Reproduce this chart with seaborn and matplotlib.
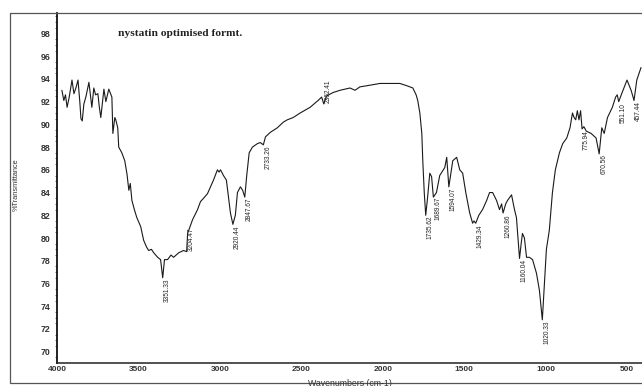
import numpy as np
import pandas as pd
import matplotlib
matplotlib.use("Agg")
import matplotlib.pyplot as plt
from matplotlib.patches import Rectangle
import seaborn as sns

# ---- data ----
wavenumber = [
    3970, 3958, 3948, 3938, 3925, 3908, 3896, 3884, 3871, 3860, 3853, 3845, 3835,
    3823, 3804, 3786, 3774, 3763, 3749, 3740, 3731, 3712, 3700, 3682, 3663, 3657,
    3645, 3639, 3627, 3621, 3602, 3584, 3570, 3559, 3550, 3540, 3525, 3510, 3486,
    3468, 3450, 3437, 3420, 3406, 3382, 3364, 3351, 3340, 3321, 3300, 3284, 3253,
    3223, 3204, 3198, 3168, 3137, 3119, 3100, 3076, 3039, 3015, 3005, 2996, 2978,
    2960, 2947, 2935, 2920, 2905, 2892, 2874, 2860, 2847, 2835, 2820, 2800, 2770,
    2752, 2733, 2720, 2690, 2647, 2610, 2586, 2550, 2507, 2470, 2446, 2397, 2375,
    2362, 2345, 2305, 2262, 2201, 2170, 2140, 2097, 2017, 1950, 1895, 1852, 1815,
    1795, 1785, 1772, 1760, 1754, 1745, 1736, 1725, 1711, 1700, 1689, 1670, 1650,
    1619, 1607, 1594, 1570, 1546, 1527, 1509, 1490, 1466, 1448, 1440, 1429, 1410,
    1387, 1362, 1344, 1325, 1301, 1283, 1270, 1261, 1245, 1234, 1209, 1191, 1179,
    1160, 1150, 1142, 1130, 1117, 1099, 1080, 1056, 1038, 1020, 1005, 995, 977,
    958, 940, 915, 895, 870, 850, 835, 825, 815, 805, 795, 785, 776, 765, 750,
    720, 690, 671, 655, 640, 620, 590, 570, 560, 551, 530, 500, 475, 457, 440, 414,
]
transmittance = [
    93.0, 92.1, 92.6, 91.5, 92.4, 93.9, 92.7, 93.2, 93.9, 92.0, 90.5, 90.3, 91.8,
    92.4, 93.7, 91.5, 93.2, 92.6, 92.7, 91.5, 90.6, 93.1, 92.0, 93.1, 92.4, 89.2,
    90.6, 90.4, 89.7, 88.0, 87.5, 86.8, 85.6, 84.2, 84.8, 83.3, 82.5, 81.8, 81.0,
    79.8, 79.2, 78.9, 79.0, 78.7, 78.3, 78.1, 76.5, 78.1, 78.1, 78.5, 78.3, 78.7,
    78.9, 78.8, 80.4, 81.6, 82.5, 83.2, 83.5, 83.9, 85.1, 86.0, 85.8, 86.0, 85.5,
    85.1, 83.6, 82.2, 81.2, 82.0, 84.0, 84.5, 84.2, 83.6, 85.5, 87.5, 88.0, 88.3,
    88.4, 88.2, 88.9, 89.3, 89.7, 90.2, 90.4, 90.6, 91.0, 91.3, 91.5, 92.1, 92.4,
    91.8, 92.5, 92.8, 93.0, 93.2, 93.0, 93.3, 93.4, 93.6, 93.6, 93.6, 93.4, 93.2,
    92.6, 92.1, 91.0, 89.2, 86.8, 84.0, 82.0, 83.5, 85.7, 85.4, 83.6, 84.0, 85.5,
    86.2, 87.1, 84.5, 86.8, 87.1, 86.0, 85.7, 84.0, 82.2, 81.3, 81.5, 81.3, 82.0,
    82.5, 83.3, 84.0, 84.0, 83.3, 82.5, 83.0, 82.2, 83.0, 83.3, 83.8, 82.5, 81.8,
    78.2, 79.5, 80.4, 80.0, 78.3, 78.3, 78.1, 76.9, 75.4, 72.8, 76.6, 79.0, 80.7,
    84.0, 86.0, 87.5, 88.3, 88.8, 89.7, 91.0, 90.6, 90.4, 91.2, 90.4, 91.2, 89.6, 89.8, 89.4,
    89.2, 88.8, 87.4, 89.7, 89.2, 90.6, 91.5, 92.4, 92.6, 92.0, 92.8, 93.9, 93.0, 92.1, 93.9, 95.0,
]
peak_labels = ["3351.33", "3204.47", "2920.44", "2847.67", "2733.26", "2362.41",
               "1735.62", "1689.67", "1594.07", "1429.34", "1260.86", "1160.04",
               "1020.33", "775.94", "670.56", "551.10", "457.44"]
peak_wn = [3351.33, 3204.47, 2920.44, 2847.67, 2733.26, 2362.41, 1735.62, 1689.67,
           1594.07, 1429.34, 1260.86, 1160.04, 1020.33, 775.94, 670.56, 551.10, 457.44]
peak_above = ["3204.47", "2362.41"]
x_ticks = [4000, 3500, 3000, 2500, 2000, 1500, 1000, 500]
y_ticks = [70, 72, 74, 76, 78, 80, 82, 84, 86, 88, 90, 92, 94, 96, 98]

# ---- figure ----
sns.set_theme(style="white")
plt.rcParams["font.family"] = ["Liberation Sans", "DejaVu Sans"]

W, H = 642, 386
fig = plt.figure(figsize=(W / 100, H / 100), dpi=100)
ax = fig.add_axes([57 / W, (H - 363) / H, (W - 57) / W, (363 - 13) / H])

df = pd.DataFrame({"wn": wavenumber, "T": transmittance})
sns.lineplot(data=df, x="wn", y="T", sort=False, estimator=None,
             color="#1a1a1a", linewidth=0.8, ax=ax)

ax.set_xlim(4000, 408)
ax.set_ylim(69.0, 99.8)
ax.set_xticks(x_ticks)
ax.set_xticklabels([str(v) for v in x_ticks])
ax.set_yticks(y_ticks)
ax.set_yticks(np.arange(69.5, 99.6, 0.5), minor=True)
ax.set_yticklabels([str(v) for v in y_ticks])
ax.tick_params(axis="y", which="major", direction="out", length=3, width=0.8,
               pad=1.5, labelsize=6.3, colors="#222222")
ax.tick_params(axis="y", which="minor", direction="out", length=1.5, width=0.5,
               left=True, colors="#333333")
ax.tick_params(axis="x", which="major", direction="in", length=2, width=0.6,
               pad=2, labelsize=6.0, colors="#333333")
for lab in ax.get_xticklabels() + ax.get_yticklabels():
    lab.set_fontweight("bold")
    lab.set_color("#333333")

ax.set_xlabel("")
ax.set_ylabel("")
for side in ["top", "right"]:
    ax.spines[side].set_visible(False)
ax.spines["left"].set_color("#111111")
ax.spines["left"].set_linewidth(1.3)
ax.spines["bottom"].set_color("#222222")
ax.spines["bottom"].set_linewidth(1.1)
ax.patch.set_alpha(0)

# peak labels
wn_rev = np.array(wavenumber[::-1], dtype=float)
t_rev = np.array(transmittance[::-1], dtype=float)
for lab, wn in zip(peak_labels, peak_wn):
    tv = np.interp(wn, wn_rev, t_rev)
    if lab in peak_above:
        ax.annotate(lab, xy=(wn, tv), xytext=(3.2, 0.5), textcoords="offset points",
                    rotation=90, ha="center", va="bottom", fontsize=4.7,
                    color="#222222", annotation_clip=False)
    else:
        ax.annotate(lab, xy=(wn, tv), xytext=(3.2, -0.8), textcoords="offset points",
                    rotation=90, ha="center", va="top", fontsize=4.7,
                    color="#222222", annotation_clip=False)

# axis titles and chart title
fig.text(350 / W, 3 / H, "Wavenumbers (cm-1)", ha="center", va="center",
         fontsize=6.3, color="#333333")
fig.text(16 / W, 1 - 185 / H, "%Transmittance", ha="center", va="center",
         rotation=90, fontsize=5.3, color="#333333")
fig.text(118 / W, 1 - 34 / H, "nystatin optimised formt.", ha="left", va="center",
         fontsize=8.2, fontweight="bold", family="Liberation Serif", color="#222222")

# outer scan frame
fig.patches.append(Rectangle((10 / W, 3 / H), (W - 9) / W, (383 - 13) / H,
                             transform=fig.transFigure, fill=False,
                             edgecolor="#555555", linewidth=0.9))

fig.savefig("out.png", dpi=100, facecolor="white")
